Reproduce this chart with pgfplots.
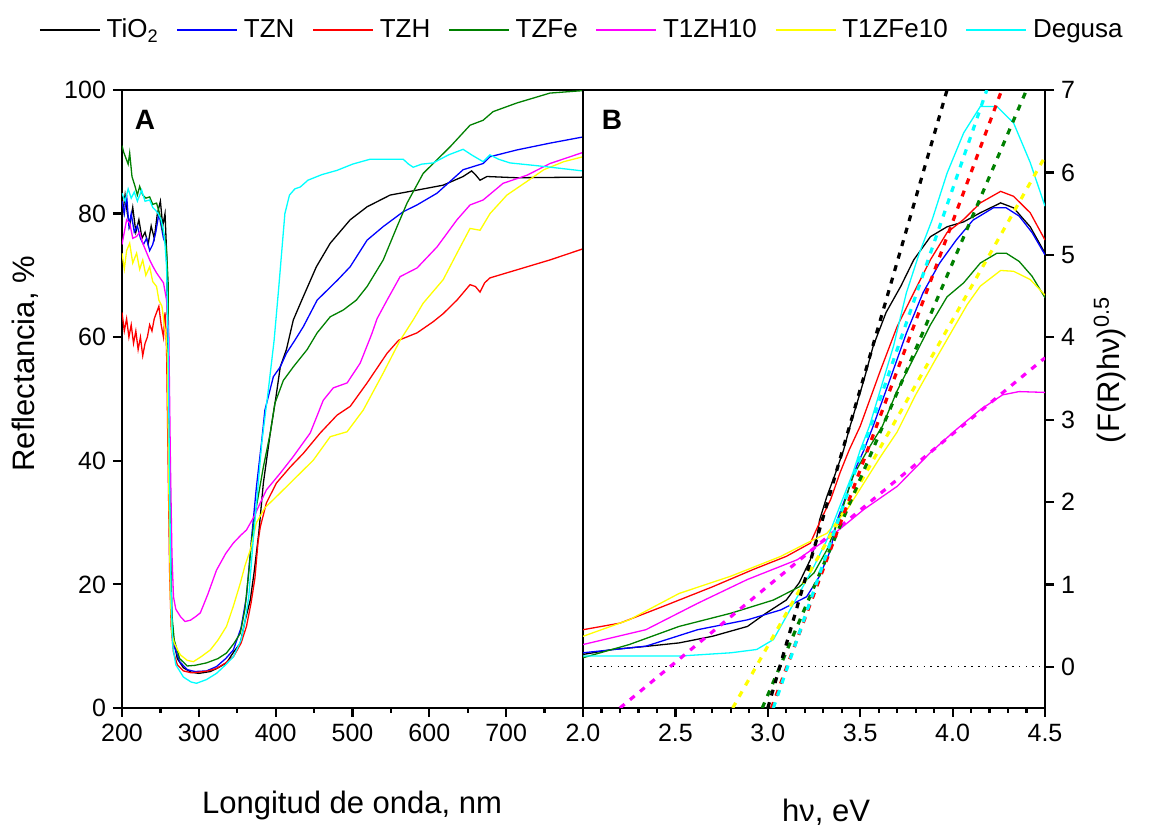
\documentclass[border=0pt]{standalone}
\usepackage{fontspec}
\setmainfont{Liberation Sans}
\usepackage{pgfplots}
\pgfplotsset{compat=1.18}
\definecolor{cBlack}{RGB}{0,0,0}
\definecolor{cBlue}{RGB}{0,0,255}
\definecolor{cRed}{RGB}{255,0,0}
\definecolor{cGreen}{RGB}{0,128,0}
\definecolor{cMag}{RGB}{255,0,255}
\definecolor{cYel}{RGB}{255,255,0}
\definecolor{cCyan}{RGB}{0,255,255}
\pgfplotsset{
  common/.style={
    scale only axis, height=309pt,
    axis line style={line width=1.1pt},
    tick style={line width=1.1pt, black},
    tick align=outside,
    major tick length=4.5pt, minor tick length=2.5pt,
    ticklabel style={font=\fontsize{12.5}{14}\selectfont},
    /pgf/number format/assume math mode=true,
    every axis plot/.append style={line width=0.65pt},
  },
  tang/.style={line width=1.6pt, dash pattern=on 3pt off 3.5pt},
}
\newcommand{\labfont}{\fontsize{15.5}{18}\selectfont}
\begin{document}
\begin{tikzpicture}
\path[use as bounding box] (-61pt,-61pt) rectangle (518pt,354pt);
% ---------------- Panel A ----------------
\begin{axis}[common,
  at={(0pt,0pt)}, anchor=south west, width=230.5pt,
  xmin=200, xmax=800, ymin=0, ymax=100,
  xtick={200,300,400,500,600,700}, minor xtick={250,350,450,550,650,750},
  ytick={0,20,40,60,80,100},
  xtick pos=left, ytick pos=left,
  xlabel={Longitud de onda, nm},
  ylabel={Reflectancia, \%},
  every axis x label/.style={at={(axis description cs:0.499,-0.157)}, anchor=center, font=\labfont},
  every axis y label/.style={at={(axis description cs:-0.21,0.557)}, rotate=90, anchor=center, font=\labfont},
  legend columns=7,
  legend style={at={(axis description cs:1.0,1.097)}, anchor=center, draw=none, fill=none,
    font=\fontsize{13}{15}\selectfont, column sep=1pt,
    /tikz/every even column/.append style={column sep=7pt}},
  legend image code/.code={\draw[#1] (0pt,0pt) -- (30pt,0pt);},
]
\addplot[cBlack] coordinates {(200,79)(204,83)(207,80)(210,78)(214,81)(218,77)(222,79)(226,76)(230,77)(234,75)(238,78)(242,76)(246,80)(250,82)(253,78)(256,80)(258,74)(260,55)(262,30)(264,16)(267,11)(272,8)(280,6.5)(290,5.8)(300,5.6)(315,5.9)(325,6.5)(336,7.3)(345,9)(354,10.5)(360,14)(367,17.5)(372,22)(378,28.3)(384,36.4)(393,44.5)(400,50)(406,55.2)(414,58)(423,62.8)(434,66)(453,71.4)(471,75.2)(497,79)(519,81.1)(549,83)(584,83.8)(618,84.6)(644,86)(655,86.9)(660,86.3)(666,85.4)(675,86)(714,85.8)(800,85.9)};
\addlegendentry{TiO\textsubscript{2}}
\addplot[cBlue] coordinates {(200,82)(203,80)(206,83)(209,78)(212,80)(216,77)(220,78)(224,76)(228,75)(232,76)(236,74)(240,75)(244,77)(248,80)(251,78)(254,76)(257,75)(259,70)(261,45)(263,25)(265,14)(268,10)(275,7.5)(285,6.2)(295,5.9)(310,6)(323,6.7)(335,8)(345,9.4)(355,13)(362,18)(369,28)(375,35.8)(382,43.4)(386,48.2)(397,53.6)(406,55.2)(414,57.4)(425,59.5)(436,61.7)(454,66)(481,69.3)(497,71.4)(519,75.7)(540,77.9)(566,80.3)(584,81.4)(610,83.3)(644,87.1)(670,88.1)(679,89.2)(714,90.3)(757,91.4)(800,92.4)};
\addlegendentry{TZN}
\addplot[cRed] coordinates {(200,64)(203,61)(206,63)(209,60)(212,62)(215,59)(218,61)(221,58)(224,60)(227,57)(230,59)(233,60)(236,62)(239,61)(242,63)(245,64)(248,65)(251,62)(254,60)(256,64)(258,58)(260,40)(262,22)(264,13)(267,9)(272,7)(280,6)(290,5.7)(300,5.8)(312,6.0)(323,6.4)(335,7.3)(345,8.3)(355,10.5)(362,13.2)(368,17)(373,21)(377,26.8)(380,29.3)(388,33.2)(401,36.4)(419,39)(436,41.2)(458,44.5)(480,47.4)(497,48.8)(519,52.6)(545,57.4)(560,59.5)(584,60.7)(605,62.5)(618,63.8)(636,66)(653,68.5)(660,68.2)(666,67.3)(672,68.8)(679,69.6)(714,70.9)(757,72.5)(800,74.3)};
\addlegendentry{TZH}
\addplot[cGreen] coordinates {(200,91)(202,90)(205,89)(208,88)(210,89.8)(213,86)(217,84.4)(220,83)(223,84.4)(227,83)(231,82.5)(236,82.7)(240,81.5)(245,81.7)(249,80)(253,77.3)(256,76)(258,74)(260,69)(261,50)(263,28)(265,15)(268,11)(275,8)(285,6.8)(295,6.9)(310,7.3)(325,8)(336,8.9)(346,10.5)(354,12.1)(360,16)(365,22)(369,27.5)(375,32.6)(384,39)(393,44.5)(399,49.3)(410,53)(423,55.2)(441,58)(454,60.7)(471,63.3)(488,64.4)(505,66)(519,68.2)(540,72.5)(558,77.9)(571,81.7)(592,86.5)(627,90.8)(653,94.3)(670,95.1)(683,96.5)(714,97.9)(757,99.5)(800,99.9)};
\addlegendentry{TZFe}
\addplot[cMag] coordinates {(200,75)(203,77)(206,79)(210,78.5)(214,76)(219,76.3)(223,77)(227,75.2)(231,74)(236,72.5)(240,71.5)(245,70.4)(250,69.5)(254,68.8)(258,66)(261,60)(263,40)(265,25)(267,18)(270,16)(276,14.8)(282,14)(289,14.2)(296,14.8)(302,15.4)(312,18.5)(323,22.3)(335,25)(345,26.7)(355,28)(362,28.8)(372,31)(380,33.2)(388,35.3)(406,38)(423,40.7)(445,44.5)(462,49.8)(475,51.8)(493,52.6)(510,55.8)(525,60.5)(532,63)(545,66)(562,69.8)(584,71.2)(610,74.6)(636,79)(653,81.4)(670,82.2)(696,84.9)(727,86.2)(757,88.1)(800,89.9)};
\addlegendentry{T1ZH10}
\addplot[cYel] coordinates {(200,73.6)(203,71)(206,74)(210,75.2)(214,72)(219,73.6)(223,71)(227,72.5)(231,70)(236,71.4)(240,69)(245,68.2)(248,66)(252,65)(255,62)(257,60.7)(259,57)(261,35)(263,18)(265,12)(268,10.5)(272,9.5)(276,8.6)(285,7.7)(293,7.5)(303,8.3)(315,9.4)(325,11)(336,13.2)(345,16.5)(354,20.2)(360,23)(367,25.6)(375,30)(386,32.4)(401,34.2)(423,36.9)(449,40.1)(471,43.9)(493,44.7)(514,48.2)(540,54.2)(562,59.5)(579,62.8)(592,65.5)(618,69.3)(636,73.6)(653,77.6)(666,77.3)(679,80)(701,83)(727,85.2)(749,87.1)(775,88.4)(800,89.2)};
\addlegendentry{T1ZFe10}
\addplot[cCyan] coordinates {(200,83.3)(204,82)(208,84)(212,82.5)(216,83.5)(220,82)(225.6,83.8)(230,82)(236,82.2)(240,81)(244,80.5)(247,80)(251,79)(254,77.3)(256,75)(258,71.4)(260,60)(262,35)(264,18)(266,10)(270,7)(280,5)(290,4.2)(297,4.0)(310,4.6)(323,5.6)(335,7)(345,8.3)(355,11)(360,14)(365,18)(370,26)(375,33)(382,43)(390,51)(398,59.5)(404,68)(408,74)(412,80)(418,83)(425,84)(432,84.3)(442,85.4)(460,86.3)(480,87)(500,88)(523,88.8)(566,88.8)(573,88)(579,87.5)(590,88)(605,88.2)(625,89.5)(644,90.4)(655,89.5)(670,88.4)(679,89.5)(690,88.8)(705,88.2)(744,87.7)(800,86.9)};
\addlegendentry{Degusa}
\node[font=\bfseries\fontsize{14}{16}\selectfont] at (rel axis cs:0.05,0.951) {A};
\end{axis}
% ---------------- Panel B ----------------
\begin{axis}[common,
  at={(230.5pt,0pt)}, anchor=south west, width=231pt,
  xmin=2, xmax=4.5, ymin=-0.5, ymax=7,
  xtick={2.0,2.5,3.0,3.5,4.0,4.5}, minor x tick num=4,
  ytick={0,1,2,3,4,5,6,7},
  xtick pos=left, ytick pos=right, yticklabel pos=right,
  xticklabel style={/pgf/number format/.cd, fixed, fixed zerofill, precision=1},
  xlabel={hν, eV},
  ylabel={(F(R)hν)\textsuperscript{0.5}},
  every axis x label/.style={at={(axis description cs:0.526,-0.168)}, anchor=center, font=\labfont},
  every axis y label/.style={at={(axis description cs:1.14,0.547)}, rotate=90, anchor=center, font=\labfont},
]
\addplot[black, line width=0.6pt, dash pattern=on 0.8pt off 2.6pt] coordinates {(2.04,0)(4.47,0)};
\addplot[cBlack] coordinates {(2.0,0.15)(2.16,0.21)(2.35,0.25)(2.52,0.29)(2.70,0.37)(2.89,0.49)(2.99,0.65)(3.10,0.81)(3.17,1.02)(3.23,1.30)(3.26,1.50)(3.28,1.78)(3.32,2.07)(3.36,2.31)(3.41,2.63)(3.44,2.88)(3.52,3.48)(3.57,3.89)(3.64,4.30)(3.72,4.62)(3.79,4.94)(3.88,5.22)(3.97,5.34)(4.06,5.40)(4.15,5.51)(4.26,5.63)(4.33,5.57)(4.42,5.34)(4.5,5.02)};
\addplot[cBlue] coordinates {(2.0,0.17)(2.34,0.25)(2.62,0.45)(2.89,0.57)(3.07,0.69)(3.21,0.85)(3.28,1.10)(3.34,1.42)(3.37,1.75)(3.43,2.11)(3.48,2.43)(3.52,2.63)(3.57,2.92)(3.66,3.48)(3.75,4.05)(3.84,4.54)(3.93,4.90)(4.02,5.18)(4.11,5.42)(4.22,5.57)(4.29,5.57)(4.36,5.47)(4.43,5.27)(4.5,5.0)};
\addplot[cRed] coordinates {(2.0,0.45)(2.2,0.53)(2.43,0.73)(2.70,0.97)(2.92,1.18)(3.10,1.34)(3.23,1.50)(3.28,1.75)(3.34,2.03)(3.39,2.35)(3.44,2.63)(3.50,2.92)(3.61,3.60)(3.70,4.13)(3.79,4.54)(3.88,4.94)(3.97,5.27)(4.06,5.43)(4.15,5.63)(4.26,5.77)(4.33,5.71)(4.42,5.51)(4.5,5.18)};
\addplot[cGreen] coordinates {(2.0,0.11)(2.25,0.27)(2.52,0.49)(2.80,0.65)(3.03,0.81)(3.17,0.97)(3.25,1.14)(3.32,1.42)(3.39,1.82)(3.46,2.31)(3.54,2.63)(3.62,2.92)(3.70,3.35)(3.79,3.75)(3.88,4.15)(3.97,4.49)(4.06,4.66)(4.15,4.90)(4.24,5.02)(4.29,5.02)(4.36,4.92)(4.43,4.74)(4.5,4.48)};
\addplot[cMag] coordinates {(2.0,0.27)(2.34,0.45)(2.62,0.77)(2.89,1.06)(3.16,1.30)(3.34,1.58)(3.52,1.91)(3.70,2.19)(3.88,2.60)(4.02,2.88)(4.15,3.12)(4.27,3.30)(4.36,3.34)(4.5,3.33)};
\addplot[cYel] coordinates {(2.0,0.37)(2.25,0.57)(2.52,0.89)(2.80,1.10)(3.07,1.34)(3.21,1.50)(3.32,1.62)(3.43,1.91)(3.52,2.23)(3.61,2.55)(3.70,2.85)(3.80,3.30)(3.90,3.70)(3.99,4.05)(4.08,4.40)(4.15,4.62)(4.26,4.81)(4.33,4.80)(4.42,4.70)(4.5,4.51)};
\addplot[cCyan] coordinates {(2.0,0.13)(2.52,0.13)(2.80,0.17)(2.94,0.21)(3.03,0.33)(3.10,0.61)(3.17,0.89)(3.25,1.22)(3.32,1.54)(3.39,1.95)(3.46,2.35)(3.50,2.63)(3.55,2.92)(3.68,3.89)(3.75,4.54)(3.82,5.02)(3.89,5.43)(3.97,5.99)(4.06,6.48)(4.15,6.80)(4.24,6.80)(4.33,6.60)(4.42,6.12)(4.5,5.59)};
% tangent lines
\addplot[cMag, tang] coordinates {(2.20,-0.5)(4.5,3.75)};
\addplot[cYel, tang] coordinates {(2.81,-0.5)(4.5,6.19)};
\addplot[cGreen, tang] coordinates {(2.97,-0.5)(4.40,7.0)};
\addplot[cRed, tang] coordinates {(3.02,-0.5)(4.266,7.0)};
\addplot[cCyan, tang] coordinates {(3.03,-0.5)(4.185,7.0)};
\addplot[cBlack, tang] coordinates {(3.00,-0.5)(3.97,7.0)};
\node[font=\bfseries\fontsize{14}{16}\selectfont] at (rel axis cs:0.063,0.951) {B};
\end{axis}
\end{tikzpicture}
\end{document}
